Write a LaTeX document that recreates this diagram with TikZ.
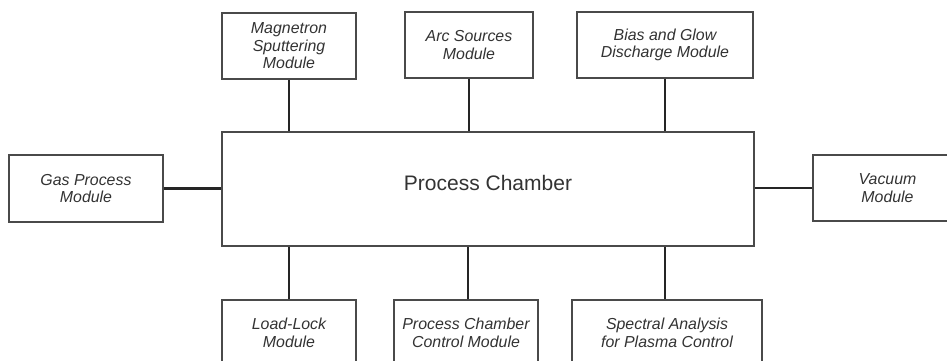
\documentclass[tikz,border=0pt]{standalone}
\usepackage{fontspec}
\setmainfont{Liberation Sans}
\definecolor{boxline}{HTML}{4A4A4A}
\definecolor{conn}{HTML}{252525}
\definecolor{txt}{HTML}{333333}
\begin{document}
\begin{tikzpicture}[x=1pt,y=-1pt,
  module/.style={draw=boxline,line width=1.3pt,fill=white,inner sep=0pt,
    minimum height=66pt,align=center,text=txt,
    font=\fontsize{15.9}{17.5}\selectfont\itshape},
  link/.style={draw=conn,line width=2.4pt}]
\useasboundingbox (0,0) rectangle (947,360);
\clip (0,0) rectangle (947,360);
\node[module,minimum width=532pt,minimum height=114pt] (pc) at (488,189) {};
\node[text=txt,font=\fontsize{21}{24}\selectfont] (pct) at (488,183) {Process Chamber};
\node[module,minimum width=134pt] (mag) at (289,46) {Magnetron\\Sputtering\\Module};
\node[module,minimum width=128pt] (arc) at (469,45) {Arc Sources\\Module};
\node[module,minimum width=176pt] (bias) at (665,45) {Bias and Glow\\Discharge Module};
\node[module,minimum width=154pt,minimum height=67pt] (gas) at (86,188.5) {Gas Process\\Module};
\node[module,minimum width=149pt] (vac) at (887.5,188) {Vacuum\\Module};
\node[module,minimum width=134pt] (ll) at (289,333) {Load-Lock\\Module};
\node[module,minimum width=144pt] (pcc) at (466,333) {Process Chamber\\Control Module};
\node[module,minimum width=190pt] (spec) at (667,333) {Spectral Analysis\\for Plasma Control};
\draw[link] (mag.south) -- (mag.south |- pc.north);
\draw[link] (arc.south) -- (arc.south |- pc.north);
\draw[link] (bias.south) -- (bias.south |- pc.north);
\draw[link] (ll.north) -- (ll.north |- pc.south);
\draw[link] ([xshift=2pt]pcc.north) -- ([xshift=2pt]pcc.north |- pc.south);
\draw[link] ([xshift=-2pt]spec.north) -- ([xshift=-2pt]spec.north |- pc.south);
\draw[link] (gas.east) -- (gas.east -| pc.west);
\draw[link] (vac.west) -- (vac.west -| pc.east);
\end{tikzpicture}
\end{document}
